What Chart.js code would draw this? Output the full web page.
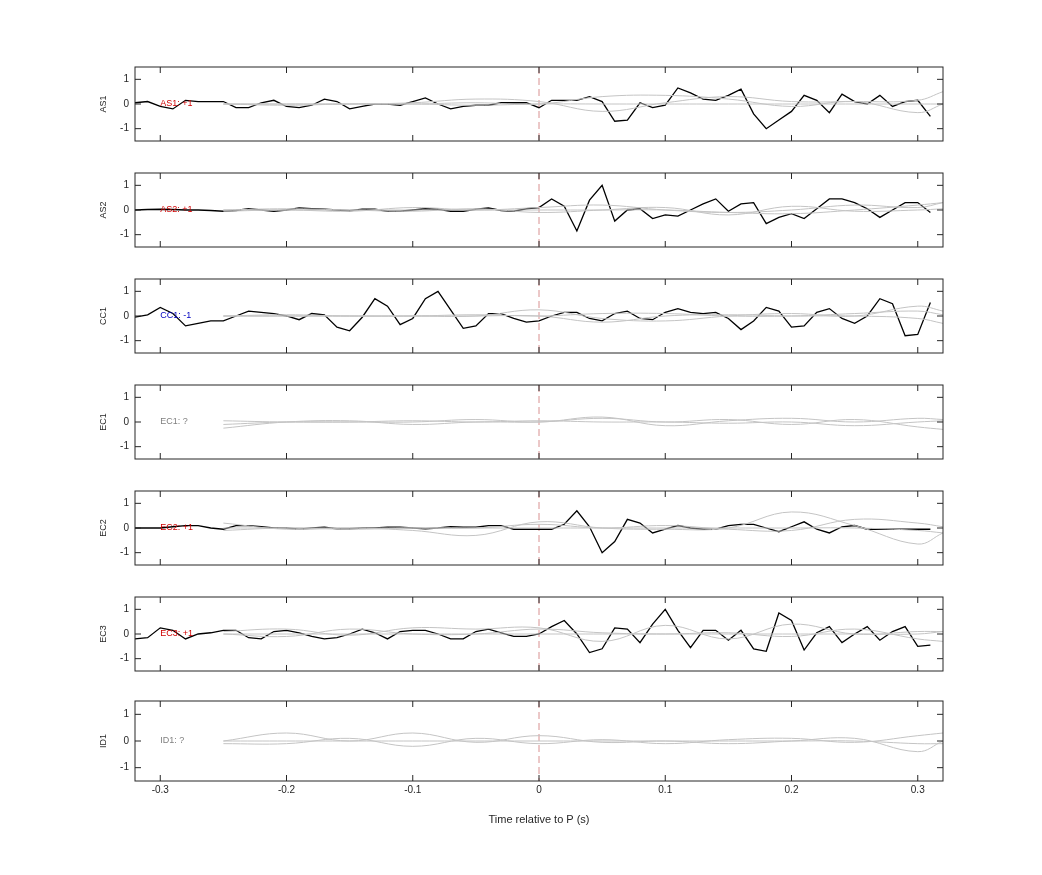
<!DOCTYPE html>
<html>
<head>
<meta charset="utf-8">
<script src="https://cdn.jsdelivr.net/npm/chart.js@4"></script>
<style>
  body { margin: 0; background: #fff; }
  canvas { position: absolute; }
</style>
</head>
<body>
<script>
// station names and polarity labels
const stations = ['AS1', 'AS2', 'CC1', 'EC1', 'EC2', 'EC3', 'ID1'];
const polarity = ['+1', '+1', '-1', '?', '+1', '+1', '?'];

// black traces, samples every 0.01 s from -0.32 to 0.31
const as1 = [0.05,0.1,-0.1,-0.2,0.15,0.1,0.1,0.1,-0.15,-0.15,0.05,0.15,-0.1,-0.15,-0.05,0.2,0.1,-0.2,-0.1,0,0,-0.05,0.1,0.25,0,-0.2,-0.1,-0.05,-0.05,0.05,0.05,0.05,
  -0.15,0.15,0.15,0.15,0.3,0.1,-0.7,-0.65,0.05,-0.15,-0.05,0.65,0.45,0.2,0.15,0.35,0.6,-0.4,-1.0,-0.65,-0.3,0.35,0.15,-0.35,0.4,0.1,0,0.35,-0.1,0.1,0.15,-0.5];
const as2 = [0,0.02,0.03,0.02,0,0,-0.02,-0.05,-0.02,0.05,0,-0.05,0,0.08,0.05,0.03,0,-0.03,0.03,0.03,-0.05,-0.05,0,0.05,0.03,-0.05,-0.05,0.03,0.08,-0.02,-0.05,0.05,
  0.1,0.45,0.15,-0.85,0.4,1.0,-0.45,0,0.05,-0.35,-0.2,-0.25,0,0.25,0.45,-0.05,0.25,0.3,-0.55,-0.3,-0.15,-0.35,0.05,0.45,0.45,0.3,0.05,-0.3,0,0.3,0.3,-0.1];
const cc1 = [-0.05,0.05,0.35,0.1,-0.4,-0.3,-0.2,-0.2,0,0.2,0.15,0.1,0,-0.15,0.1,0.05,-0.45,-0.6,-0.05,0.7,0.4,-0.35,-0.1,0.7,1.0,0.25,-0.5,-0.4,0.1,0.1,-0.1,-0.25,
  -0.2,0,0.15,0.15,-0.1,-0.2,0.1,0.2,-0.1,-0.15,0.15,0.3,0.15,0.1,0.15,-0.1,-0.55,-0.2,0.35,0.2,-0.45,-0.4,0.15,0.3,-0.1,-0.3,0,0.7,0.5,-0.8,-0.75,0.55];
const ec1 = [];
const ec2 = [0,0,0,0.05,0.1,0.1,0,-0.05,0.1,0.1,0.05,0,0,-0.05,0,0.03,-0.03,-0.03,0,0,0.03,0.03,0,-0.03,0,0.05,0.03,0.03,0.1,0.1,-0.05,-0.05,
  -0.05,-0.05,0.15,0.7,0.05,-1.0,-0.55,0.35,0.2,-0.2,-0.05,0.1,0,-0.05,-0.05,0.1,0.15,0.15,0,-0.15,0.05,0.25,-0.05,-0.2,0.05,0.1,-0.05,-0.05,-0.05,-0.05,-0.05,-0.05];
const ec3 = [-0.2,-0.15,0.25,0.15,-0.2,0,0.05,0.15,0.15,-0.15,-0.2,0.1,0.15,0.05,-0.1,-0.2,-0.15,0,0.2,0.05,-0.2,0.1,0.15,0.15,0,-0.2,-0.2,0.1,0.2,0.05,-0.1,-0.1,
  0,0.3,0.55,0,-0.75,-0.6,0.25,0.2,-0.35,0.4,1.0,0.15,-0.55,0.15,0.15,-0.25,0.15,-0.6,-0.7,0.85,0.55,-0.65,0.05,0.3,-0.35,0,0.3,-0.25,0.1,0.3,-0.5,-0.45];
const id1 = [];
const blackTraces = [as1, as2, cc1, ec1, ec2, ec3, id1];

// grey synthetic traces, sampled at these times
const greyTimes = [-0.25,-0.2,-0.15,-0.1,-0.05,0,0.05,0.1,0.15,0.2,0.25,0.3,0.32];
const greyTraces = [
  [[0,0,0,0.05,0.2,0.1,-0.3,0.05,0.3,0.1,0.1,0.15,0.5],[0,0,0,0,0.05,0,0.3,0.35,0.2,-0.1,0.1,-0.35,0],[0,-0.05,0,0,-0.05,0,0,0,0,0,0,0,0]],
  [[-0.05,0,-0.05,0.1,0,0.1,0.2,0,-0.1,0,0.2,0.1,0.3],[0,0.05,0,-0.05,0.05,-0.1,0,0.1,-0.2,0.15,-0.05,0,0.05],[0,0,0,0,0,0,0,0,-0.1,-0.15,0,0.2,0.3]],
  [[0,0,0,0,0,0.25,-0.1,-0.2,0,0.1,0,0.4,0.2],[0,0.05,0,0,0,0,-0.25,0,0.05,0,0,-0.1,-0.3],[0,0,0,0,0.05,0,0.1,0.1,0,0,0.1,0.2,0.05]],
  [[-0.25,0,0.05,-0.1,0,0,0.15,0,0.1,-0.1,0.1,-0.2,-0.3],[-0.1,0,0,0,0.1,0,0.2,-0.15,0.05,0.15,0,0.15,0.1],[0.05,0,0,0.05,0,0.05,0,0,-0.05,0,-0.15,0,0.05]],
  [[0.2,-0.05,0,-0.1,-0.3,0.25,0,-0.05,0,0.65,0.1,-0.65,-0.2],[-0.1,0,-0.05,0,0,0.15,0,0.1,-0.05,-0.1,0.35,0.2,0.05],[0,0,0,0,0,0,0,0,0,0,0,-0.1,-0.2]],
  [[0.1,0.2,-0.05,0.25,0.2,0.25,-0.3,0.35,-0.2,0.4,0,0.1,0.1],[0,-0.1,0.2,0,0,0.2,0.05,0,0.05,-0.1,0.2,-0.2,-0.3],[0,0,0,0,0,0,0,0,0,0,0,0,0.1]],
  [[0,0.3,0,0.3,-0.05,0.2,-0.05,0,-0.1,0,0.1,-0.4,0],[-0.1,-0.1,0.1,-0.2,0.1,-0.1,0.05,-0.1,0.05,0.1,-0.05,0.2,0.3],[0,0,0,0,0,0,0,0,0,0,0,-0.1,-0.1]]
];
const xTicks = [-0.3, -0.2, -0.1, 0, 0.1, 0.2, 0.3];
const yTicks = [-1, 0, 1];

const AXIS = '#262626';
const labelColor = p => p === '+1' ? '#d00000' : (p === '-1' ? '#0000c0' : '#808080');

const framePlugin = {
    id: 'frame',
    beforeDatasetsDraw(chart) {
        const { ctx, chartArea: a, scales } = chart;
        const x0 = scales.x.getPixelForValue(0);
        ctx.save();
        ctx.strokeStyle = '#d89090';
        ctx.lineWidth = 1;
        ctx.setLineDash([7, 4]);
        ctx.beginPath();
        ctx.moveTo(x0, a.top);
        ctx.lineTo(x0, a.bottom);
        ctx.stroke();
        ctx.restore();
    },
    afterDraw(chart) {
        const { ctx, chartArea: a, scales } = chart;
        const o = chart.options.plugins.frame;
        ctx.save();
        ctx.strokeStyle = AXIS;
        ctx.lineWidth = 1;
        ctx.strokeRect(a.left, a.top, a.right - a.left, a.bottom - a.top);
        // inward ticks like the original
        ctx.beginPath();
        xTicks.forEach(t => {
            const x = scales.x.getPixelForValue(t);
            ctx.moveTo(x, a.bottom); ctx.lineTo(x, a.bottom - 6);
            ctx.moveTo(x, a.top); ctx.lineTo(x, a.top + 6);
        });
        yTicks.forEach(t => {
            const y = scales.y.getPixelForValue(t);
            ctx.moveTo(a.left, y); ctx.lineTo(a.left + 6, y);
            ctx.moveTo(a.right, y); ctx.lineTo(a.right - 6, y);
        });
        ctx.stroke();
        ctx.fillStyle = o.color;
        ctx.font = '9px "Liberation Sans", Arial, sans-serif';
        ctx.textBaseline = 'middle';
        ctx.fillText(o.text, scales.x.getPixelForValue(-0.3), scales.y.getPixelForValue(0));
        ctx.restore();
    }
};

stations.forEach((name, i) => {
    const last = i === stations.length - 1;
    const cv = document.createElement('canvas');
    const top = last ? 702 - 13 : 67 + i * 106 - 12;
    const h = last ? 142 : 98;
    cv.style.left = '94px';
    cv.style.top = top + 'px';
    cv.style.width = '850px';
    cv.style.height = h + 'px';
    document.body.appendChild(cv);

    const datasets = greyTraces[i].map(g => ({
        data: g.map((v, k) => ({ x: greyTimes[k], y: v })),
        borderColor: '#c4c4c4',
        borderWidth: 1,
        pointRadius: 0,
        tension: 0.4
    }));
    datasets.push({
        data: blackTraces[i].map((v, k) => ({ x: Math.round((-0.32 + k * 0.01) * 100) / 100, y: v })),
        borderColor: '#000',
        borderWidth: 1.3,
        pointRadius: 0,
        tension: 0
    });

    new Chart(cv, {
        type: 'line',
        data: { datasets },
        options: {
            responsive: false,
            animation: false,
            layout: { padding: { top: 4, right: 1, left: 0, bottom: 0 } },
            plugins: {
                legend: { display: false },
                tooltip: { enabled: false },
                frame: { text: name + ': ' + polarity[i], color: labelColor(polarity[i]) }
            },
            scales: {
                x: {
                    type: 'linear', min: -0.32, max: 0.32,
                    afterBuildTicks: s => { s.ticks = xTicks.map(v => ({ value: v })); },
                    afterFit: s => { s.height = last ? 50 : 2; },
                    grid: { display: false, drawTicks: false },
                    border: { display: false },
                    ticks: {
                        display: last, color: AXIS, padding: 3,
                        font: { size: 10, family: '"Liberation Sans", Arial, sans-serif' },
                        callback: v => v === 0 ? '0' : String(v)
                    },
                    title: {
                        display: last, text: 'Time relative to P (s)', color: AXIS, padding: { top: 13 },
                        font: { size: 11, family: '"Liberation Sans", Arial, sans-serif' }
                    }
                },
                y: {
                    min: -1.5, max: 1.5,
                    afterBuildTicks: s => { s.ticks = yTicks.map(v => ({ value: v })); },
                    afterFit: s => { s.width = 41; },
                    grid: { display: false, drawTicks: false },
                    border: { display: false },
                    ticks: {
                        color: AXIS, padding: 6,
                        font: { size: 10, family: '"Liberation Sans", Arial, sans-serif' }
                    },
                    title: {
                        display: true, text: name, color: AXIS, padding: { bottom: 2 },
                        font: { size: 9, family: '"Liberation Sans", Arial, sans-serif' }
                    }
                }
            }
        },
        plugins: [framePlugin]
    });
});
</script>
</body>
</html>
